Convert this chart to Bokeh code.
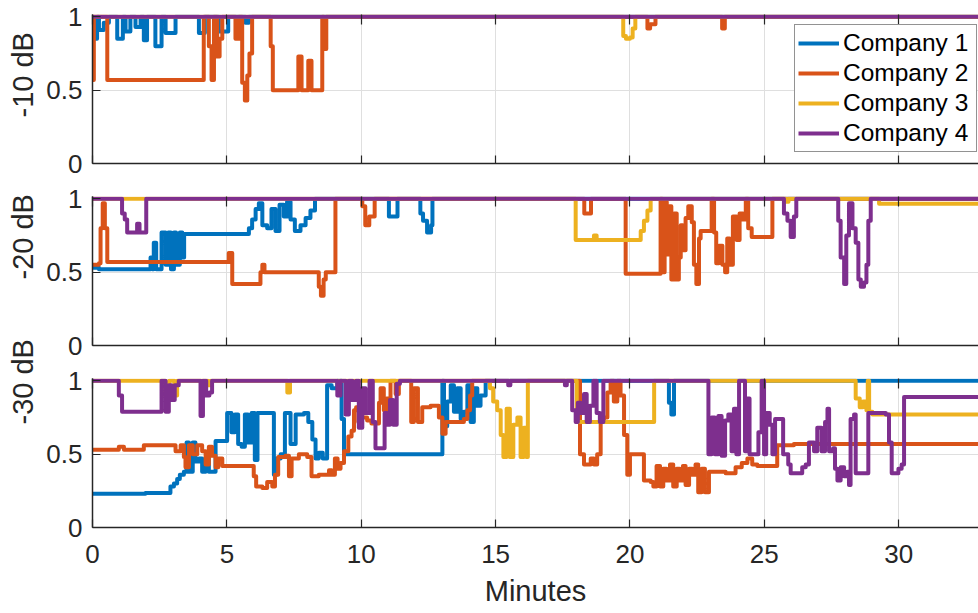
from bokeh.plotting import figure
from bokeh.layouts import column
from bokeh.models import Range1d, FixedTicker, LinearAxis, Legend, LegendItem, Title
from bokeh.embed import file_html
from bokeh.resources import INLINE

# ---------------- data ----------------
COMPANIES = ["Company 1", "Company 2", "Company 3", "Company 4"]
PANEL_LABELS = ["-10 dB", "-20 dB", "-30 dB"]
X_TICKS = [0, 5, 10, 15, 20, 25, 30]
Y_TICKS = [0, 0.5, 1]
X_LABEL = "Minutes"

# each series: (minute, value) change points (value holds until next point)
db10_c1 = [(0, 0.85), (0.17, 1.0), (0.24, 0.91), (0.42, 0.96), (0.61, 1.0), (0.92, 0.85), (1.13, 1.0),
           (1.23, 0.9), (1.41, 1.0), (1.6, 0.93), (1.79, 1.0), (1.91, 0.84), (2.03, 1.0), (2.34, 0.8),
           (2.57, 1.0), (2.72, 0.89), (3.09, 1.0), (3.96, 0.89), (4.18, 1.0), (4.70, 0.9), (5.05, 1.0),
           (5.69, 0.96), (5.82, 1.0), (33.5, 1.0)]
db10_c2 = [(0, 0.57), (0.05, 1.0), (0.55, 0.57), (4.14, 1.0), (4.33, 0.8), (4.43, 0.57), (4.52, 1.0),
           (4.64, 0.73), (4.73, 0.85), (4.83, 1.0), (5.32, 0.85), (5.45, 1.0), (5.57, 0.55), (5.67, 0.43),
           (5.76, 0.6), (5.84, 0.75), (5.94, 1.0), (6.63, 0.8), (6.71, 0.5), (7.66, 0.73), (7.78, 0.5),
           (8.03, 0.7), (8.15, 0.5), (8.55, 1.0), (8.61, 0.78), (8.70, 1.0), (20.65, 0.92), (20.75, 0.95),
           (20.95, 1.0), (23.43, 0.92), (23.53, 1.0), (33.5, 1.0)]
db10_c3 = [(0, 1.0), (19.75, 0.87), (19.85, 0.85), (20.0, 0.86), (20.1, 0.92), (20.2, 1.0), (33.5, 1.0)]
db10_c4 = [(0, 1.0), (33.5, 1.0)]

db20_c1 = [(0, 0.53), (0.24, 0.52), (2.1, 0.52), (2.16, 0.6), (2.22, 0.52), (2.28, 0.7), (2.37, 0.52),
           (2.57, 0.77), (2.72, 0.55), (2.82, 0.77), (2.92, 0.52), (3.03, 0.77), (3.11, 0.55), (3.25, 0.77),
           (3.34, 0.6), (3.41, 0.76), (5.76, 0.76), (5.82, 0.8), (5.94, 0.86), (6.07, 0.93), (6.19, 0.97),
           (6.32, 0.82), (6.5, 0.8), (6.66, 0.93), (6.81, 0.78), (6.96, 0.96), (7.12, 0.88), (7.24, 0.98),
           (7.37, 0.86), (7.53, 0.78), (7.74, 0.82), (7.93, 0.87), (8.11, 0.92), (8.28, 1.0), (11.03, 0.88),
           (11.35, 1.0), (12.2, 0.9), (12.3, 0.85), (12.45, 0.77), (12.6, 0.82), (12.65, 1.0), (33.5, 1.0)]
db20_c2 = [(0, 0.55), (0.24, 0.56), (0.3, 0.8), (0.38, 0.97), (0.46, 0.8), (0.55, 0.57), (5.07, 0.63),
           (5.2, 0.42), (6.25, 0.5), (6.32, 0.55), (6.4, 0.5), (8.42, 0.4), (8.5, 0.34), (8.6, 0.45),
           (8.68, 0.5), (9.04, 1.0), (10.04, 0.95), (10.15, 0.82), (10.3, 0.88), (10.5, 1.0), (18.3, 0.9),
           (18.55, 1.0), (19.84, 0.49), (21.14, 1.0), (21.2, 0.5), (21.29, 0.98), (21.37, 0.62), (21.46, 0.95),
           (21.54, 0.45), (21.64, 0.9), (21.74, 0.45), (21.82, 0.6), (21.89, 0.82), (21.97, 0.65), (22.07, 0.87),
           (22.17, 0.95), (22.3, 0.84), (22.38, 0.55), (22.47, 0.42), (22.57, 0.73), (22.63, 0.78), (23.04, 1.0),
           (23.13, 0.77), (23.21, 0.56), (23.31, 0.68), (23.44, 0.55), (23.54, 0.5), (23.62, 0.73), (23.71, 0.55),
           (23.83, 0.88), (23.97, 0.72), (24.08, 0.9), (24.21, 0.86), (24.31, 1.0), (24.4, 0.8), (24.53, 0.74),
           (25.3, 1.0), (33.5, 1.0)]
db20_c3 = [(0, 1.0), (17.98, 0.72), (18.66, 0.75), (18.76, 0.72), (20.4, 0.78), (20.52, 0.85), (20.65, 0.92),
           (20.77, 1.0), (25.8, 0.98), (25.9, 1.0), (29.27, 0.966), (33.5, 0.966)]
db20_c4 = [(0, 1.0), (1.1, 0.9), (1.2, 0.86), (1.29, 0.77), (1.66, 0.83), (1.75, 0.77), (2.0, 1.0),
           (25.73, 0.9), (25.86, 0.85), (25.98, 0.74), (26.1, 0.88), (26.19, 1.0), (27.75, 0.85), (27.84, 0.6),
           (27.97, 0.42), (28.05, 0.75), (28.15, 0.97), (28.28, 0.8), (28.4, 0.7), (28.5, 0.45), (28.59, 0.4),
           (28.71, 0.43), (28.8, 0.55), (28.87, 0.85), (28.96, 1.0), (33.5, 1.0)]

db30_c1 = [(0, 0.23), (1.97, 0.235), (2.9, 0.28), (3.03, 0.30), (3.15, 0.33), (3.25, 0.36), (3.4, 0.38),
           (3.5, 0.58), (3.59, 0.38), (3.73, 0.58), (3.83, 0.45), (3.96, 0.47), (4.08, 0.38), (4.21, 0.47),
           (4.33, 0.38), (4.58, 0.59), (5.01, 0.78), (5.17, 0.65), (5.3, 0.77), (5.42, 0.57), (5.55, 0.55),
           (5.67, 0.77), (5.79, 0.58), (5.92, 0.78), (6.04, 0.46), (6.14, 0.78), (6.75, 0.36), (6.85, 0.47),
           (7.0, 0.5), (7.16, 0.78), (7.37, 0.57), (7.56, 0.77), (7.87, 0.78), (8.03, 0.72), (8.18, 0.6),
           (8.3, 0.47), (8.42, 0.51), (8.57, 0.47), (8.73, 0.97), (8.9, 0.95), (9.11, 1.0), (9.27, 0.74),
           (9.36, 0.5), (13.02, 1.0), (13.08, 0.69), (13.2, 0.86), (13.33, 0.97), (13.45, 0.79), (13.57, 0.95),
           (13.7, 0.74), (13.82, 0.79), (13.95, 0.97), (14.07, 0.72), (14.19, 0.95), (14.32, 0.83), (14.44, 0.9),
           (14.63, 1.0), (21.45, 0.85), (21.54, 0.77), (21.64, 1.0), (33.5, 1.0)]
db30_c2 = [(0, 0.53), (0.98, 0.55), (1.17, 0.53), (1.91, 0.56), (3.09, 0.52), (3.28, 0.56), (3.4, 0.48),
           (3.46, 0.41), (3.59, 0.56), (3.73, 0.5), (3.9, 0.56), (4.08, 0.52), (4.21, 0.43), (4.33, 0.55),
           (4.45, 0.49), (4.58, 0.41), (4.68, 0.47), (4.83, 0.42), (6.0, 0.35), (6.09, 0.28), (6.32, 0.27),
           (6.5, 0.31), (6.69, 0.28), (6.79, 0.36), (6.91, 0.48), (7.18, 0.49), (7.31, 0.35), (7.41, 0.47),
           (7.68, 0.5), (7.99, 0.48), (8.15, 0.35), (8.42, 0.36), (8.8, 0.39), (8.9, 0.36), (9.02, 0.47),
           (9.12, 0.4), (9.23, 0.44), (9.36, 0.52), (9.52, 0.62), (9.64, 0.66), (9.73, 0.8), (9.81, 0.82),
           (9.89, 0.72), (10.01, 0.75), (10.22, 0.73), (10.38, 0.71), (10.66, 0.85), (10.72, 0.95), (10.84, 0.8),
           (10.94, 0.88), (11.09, 1.0), (11.28, 0.91), (11.4, 1.0), (11.86, 0.72), (11.96, 0.95), (12.11, 0.72),
           (12.27, 0.82), (12.58, 0.83), (12.89, 0.75), (13.02, 0.64), (13.14, 0.72), (13.82, 0.74), (13.95, 0.8),
           (14.05, 0.9), (14.13, 1.0), (18.14, 0.5), (18.29, 0.43), (18.54, 0.47), (18.66, 0.43), (18.78, 0.5),
           (18.91, 0.72), (19.03, 0.75), (19.16, 0.92), (19.28, 1.0), (19.4, 0.86), (19.53, 1.0), (19.65, 0.9),
           (19.78, 0.63), (19.9, 0.36), (20.0, 0.5), (20.52, 0.32), (20.77, 0.31), (20.87, 0.28), (20.99, 0.42),
           (21.12, 0.28), (21.24, 0.4), (21.36, 0.32), (21.49, 0.43), (21.61, 0.28), (21.74, 0.4), (21.85, 0.32),
           (21.97, 0.42), (22.07, 0.29), (22.2, 0.4), (22.32, 0.36), (22.44, 0.43), (22.54, 0.24), (22.67, 0.4),
           (22.79, 0.24), (22.94, 0.38), (23.56, 0.37), (23.93, 0.41), (24.16, 0.44), (24.37, 0.47), (24.55, 0.43),
           (24.74, 0.42), (25.48, 0.56), (26.1, 0.57), (33.5, 0.57)]
db30_c3 = [(0, 1.0), (2.7, 0.9), (2.85, 1.0), (3.05, 0.9), (3.15, 1.0), (4.3, 0.97), (4.4, 1.0), (7.25, 0.92),
           (7.35, 1.0), (14.79, 0.95), (14.91, 0.86), (15.06, 0.8), (15.19, 0.63), (15.29, 0.48), (15.41, 0.81),
           (15.53, 0.48), (15.66, 0.7), (15.81, 0.75), (15.93, 0.48), (16.05, 0.68), (16.15, 0.48), (16.2, 1.0),
           (18.02, 0.72), (20.9, 1.0), (28.4, 0.88), (28.55, 0.82), (28.67, 0.86), (28.8, 0.8), (28.85, 1.0),
           (28.9, 0.79), (29.02, 0.77), (33.5, 0.77)]
db30_c4 = [(0, 1.0), (0.98, 0.9), (1.1, 0.79), (2.57, 1.0), (2.72, 0.79), (2.84, 0.97), (2.94, 0.87),
           (3.06, 0.97), (3.21, 1.0), (4.02, 0.76), (4.11, 1.0), (4.23, 0.9), (4.35, 0.92), (4.45, 1.0),
           (9.11, 0.9), (9.23, 1.0), (9.42, 0.77), (9.54, 1.0), (9.67, 0.87), (9.81, 1.0), (9.91, 0.68),
           (10.04, 0.95), (10.16, 0.78), (10.31, 1.0), (10.43, 0.72), (10.53, 0.54), (10.87, 0.78), (10.97, 0.7),
           (11.07, 0.87), (11.19, 0.7), (11.32, 0.98), (11.44, 1.0), (15.47, 0.97), (15.55, 1.0), (17.58, 0.97),
           (17.65, 1.0), (17.85, 0.8), (17.98, 0.72), (18.06, 0.85), (18.16, 0.78), (18.29, 0.91), (18.39, 0.72),
           (18.51, 0.83), (18.64, 1.0), (18.76, 0.78), (18.88, 0.72), (19.01, 1.0), (22.92, 0.5), (23.04, 0.75),
           (23.16, 0.5), (23.29, 0.76), (23.41, 0.49), (23.54, 0.73), (23.66, 0.77), (23.78, 0.52), (23.87, 0.81),
           (23.96, 0.5), (24.06, 1.0), (24.28, 0.52), (24.37, 0.88), (24.45, 0.5), (24.78, 0.65), (24.9, 1.0),
           (24.99, 0.5), (25.07, 0.78), (25.2, 0.7), (25.3, 0.5), (25.4, 0.74), (25.7, 0.5), (25.89, 0.43),
           (25.98, 0.37), (26.41, 0.41), (26.54, 0.43), (26.66, 0.58), (26.85, 0.52), (26.97, 0.68), (27.13, 0.52),
           (27.26, 0.72), (27.35, 0.81), (27.41, 0.52), (27.56, 0.54), (27.63, 0.4), (27.72, 0.32), (27.84, 0.41),
           (27.97, 0.35), (28.09, 0.38), (28.15, 0.29), (28.21, 0.74), (28.34, 0.77), (28.4, 0.37), (28.87, 0.78),
           (29.52, 0.77), (29.64, 0.58), (29.74, 0.37), (29.99, 0.4), (30.11, 0.43), (30.2, 0.89), (33.5, 0.89)]

PANELS = [
    [db10_c1, db10_c2, db10_c3, db10_c4],
    [db20_c1, db20_c2, db20_c3, db20_c4],
    [db30_c1, db30_c2, db30_c3, db30_c4],
]

# ---------------- style ----------------
COLORS = ["#0072BD", "#D95319", "#EDB120", "#7E2F8E"]
FONT = "Liberation Sans"
TXT = "#262626"
TICK_FS = "26px"
LABEL_FS = "29px"
LEGEND_FS = "24.5px"
LW = 4

# layout per panel (label offset measured up from the frame bottom)
LABEL_SHIFT = [46, 66, 103]
OVERLAP = [0, 0, 44]          # extra canvas above the panel, overlapping the previous one
HEIGHTS = [180, 182, 251]
TOPS = [14, 16, 16]
BOTTOMS = [17, 17, 86]

x_range = Range1d(0, 32.97)


def make_panel(i):
    last = i == 2
    ov = OVERLAP[i]
    p = figure(width=978, height=HEIGHTS[i] + ov, x_range=x_range, y_range=Range1d(0, 1.016),
               output_backend="svg", toolbar_location=None,
               min_border_left=92, min_border_right=0,
               min_border_top=TOPS[i] + ov, min_border_bottom=BOTTOMS[i],
               margin=(-ov, 0, 0, 0))
    p.outline_line_color = None
    p.background_fill_color = "white"
    p.border_fill_color = "white"
    if ov:
        p.border_fill_alpha = 0

    renderers = []
    for series, color in zip(PANELS[i], COLORS):
        xs = [pt[0] for pt in series]
        ys = [pt[1] for pt in series]
        r = p.step(x=xs, y=ys, mode="after", line_width=LW, line_color=color, line_join="round")
        renderers.append(r)

    xa = p.xaxis[0]
    xa.ticker = FixedTicker(ticks=X_TICKS)
    ya = p.yaxis[0]
    ya.ticker = FixedTicker(ticks=Y_TICKS)
    ya.major_label_overrides = {0: "0", 0.5: "0.5", 1: "1"}
    for ax in (xa, ya):
        ax.axis_line_color = TXT
        ax.axis_line_width = 1.5
        ax.major_tick_line_color = TXT
        ax.major_tick_line_width = 1.2
        ax.major_tick_in = 8
        ax.major_tick_out = 0
        ax.minor_tick_line_color = None
        ax.major_label_text_font = FONT
        ax.major_label_text_font_size = TICK_FS
        ax.major_label_text_color = TXT
    ya.major_label_standoff = 10
    if last:
        xa.major_label_standoff = 17
        xa.axis_label = X_LABEL
        xa.axis_label_text_font = FONT
        xa.axis_label_text_font_size = LABEL_FS
        xa.axis_label_text_font_style = "normal"
        xa.axis_label_text_color = TXT
        xa.axis_label_standoff = 9
    else:
        xa.major_label_text_color = None
        xa.major_label_text_font_size = "1px"
        xa.major_label_standoff = 0

    top = LinearAxis(ticker=FixedTicker(ticks=X_TICKS), major_tick_in=10, major_tick_out=0,
                     major_tick_line_color=TXT, major_tick_line_width=1.2,
                     minor_tick_line_color=None, axis_line_color=None,
                     major_label_text_color=None, major_label_text_font_size="1px",
                     major_label_standoff=0)
    p.add_layout(top, "above")

    p.xgrid.grid_line_color = "#dfdfdf"
    p.ygrid.grid_line_color = "#dfdfdf"
    p.xgrid.grid_line_width = 1
    p.ygrid.grid_line_width = 1

    ttl = Title(text=PANEL_LABELS[i], align="left", offset=LABEL_SHIFT[i], standoff=9,
                text_font=FONT, text_font_size=LABEL_FS, text_font_style="normal", text_color=TXT)
    p.add_layout(ttl, "left")

    if i == 0:
        items = [LegendItem(label=name, renderers=[r]) for name, r in zip(COMPANIES, renderers)]
        leg = Legend(items=items, location=(702, 11), margin=0, padding=3, spacing=0,
                     glyph_width=41, glyph_height=30, label_height=30, label_width=130, label_standoff=4,
                     label_text_font=FONT, label_text_font_size=LEGEND_FS, label_text_color="black",
                     border_line_color=TXT, border_line_width=1, background_fill_color="white",
                     background_fill_alpha=1)
        p.add_layout(leg)
    return p


plots = [make_panel(i) for i in range(3)]
layout = column(*plots, spacing=0)
open("out.html", "w").write(file_html(layout, INLINE))
